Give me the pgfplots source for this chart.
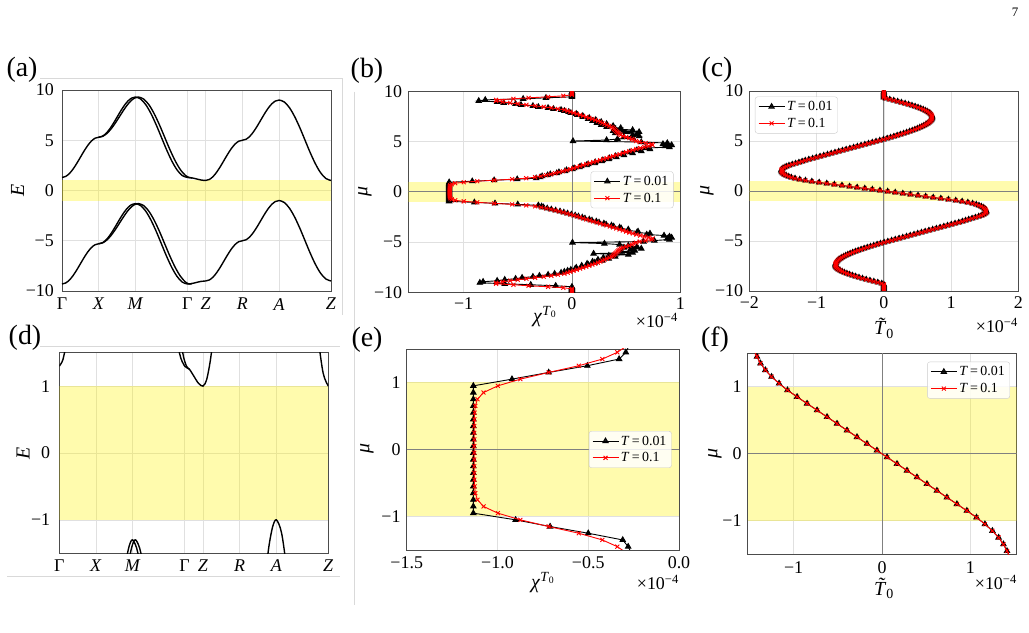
\documentclass[border=0pt]{standalone}
\usepackage{fontspec}
\setmainfont{Liberation Serif}
\usepackage{pgfplots}
\usepackage{pgfplotstable}
\pgfplotsset{compat=1.18}

% band structure along Gamma-X-M-Gamma-Z-R-A-Z (path length in units of pi)
\pgfplotstableread{
t up lo
0.000 1.300 -9.300
0.100 1.398 -9.202
0.200 1.682 -8.918
0.300 2.124 -8.476
0.400 2.682 -7.918
0.500 3.300 -7.300
0.600 3.918 -6.682
0.700 4.476 -6.124
0.800 4.918 -5.682
0.900 5.202 -5.398
1.000 5.300 -5.300
1.100 5.398 -5.202
1.200 5.682 -4.918
1.300 6.124 -4.476
1.400 6.682 -3.918
1.500 7.300 -3.300
1.600 7.918 -2.682
1.700 8.476 -2.124
1.800 8.918 -1.682
1.900 9.202 -1.398
2.000 9.300 -1.300
2.141 9.104 -1.496
2.283 8.536 -2.064
2.424 7.651 -2.949
2.566 6.536 -4.064
2.707 5.300 -5.300
2.848 4.064 -6.536
2.990 2.949 -7.651
3.131 2.064 -8.536
3.273 1.496 -9.104
3.414 1.300 -9.300
3.539 1.256 -9.256
3.664 1.150 -9.150
3.789 1.044 -9.044
3.914 1.000 -9.000
4.014 1.098 -8.902
4.114 1.382 -8.618
4.214 1.824 -8.176
4.314 2.382 -7.618
4.414 3.000 -7.000
4.514 3.618 -6.382
4.614 4.176 -5.824
4.714 4.618 -5.382
4.814 4.902 -5.098
4.914 5.000 -5.000
5.014 5.098 -4.902
5.114 5.382 -4.618
5.214 5.824 -4.176
5.314 6.382 -3.618
5.414 7.000 -3.000
5.514 7.618 -2.382
5.614 8.176 -1.824
5.714 8.618 -1.382
5.814 8.902 -1.098
5.914 9.000 -1.000
6.055 8.804 -1.196
6.197 8.236 -1.764
6.338 7.351 -2.649
6.480 6.236 -3.764
6.621 5.000 -5.000
6.762 3.764 -6.236
6.904 2.649 -7.351
7.045 1.764 -8.236
7.187 1.196 -8.804
7.328 1.000 -9.000
}\bandmain

% split partner bands between X and Gamma
\pgfplotstableread{
t up lo
1.000 5.300 -5.300
1.113 5.398 -5.202
1.225 5.682 -4.918
1.336 6.124 -4.476
1.447 6.682 -3.918
1.557 7.300 -3.300
1.665 7.918 -2.682
1.771 8.476 -2.124
1.876 8.918 -1.682
1.979 9.202 -1.398
2.080 9.300 -1.300
2.223 9.104 -1.496
2.367 8.536 -2.064
2.510 7.651 -2.949
2.654 6.536 -4.064
2.797 5.300 -5.300
2.940 4.064 -6.536
3.084 2.949 -7.651
3.226 2.064 -8.536
3.363 1.496 -9.104
3.464 1.300 -9.300
3.539 1.256 -9.256
}\bandsplit

% chi^{T_0} (units of 1e-4): b = T 0.01, r = T 0.1
\pgfplotstableread{
mu b r
-9.95 0 0
-9.85 0 0
-9.75 0 0
-9.65 0 0
-9.55 0 -0.080
-9.45 0 -0.220
-9.35 -0.150 -0.400
-9.25 -0.380 -0.540
-9.15 -0.620 -0.700
-9.05 -0.850 -0.700
-8.95 -0.820 -0.640
-8.85 -0.690 -0.570
-8.75 -0.620 -0.500
-8.65 -0.520 -0.420
-8.55 -0.460 -0.340
-8.45 -0.360 -0.260
-8.35 -0.300 -0.190
-8.25 -0.220 -0.130
-8.15 -0.160 -0.070
-8.05 -0.100 -0.040
-7.95 -0.070 -0.015
-7.85 -0.040 0.015
-7.75 -0.010 0.045
-7.65 0.030 0.075
-7.55 0.040 0.103
-7.45 0.090 0.132
-7.35 0.090 0.160
-7.25 0.150 0.188
-7.15 0.140 0.215
-7.05 0.210 0.240
-6.95 0.190 0.262
-6.85 0.280 0.280
-6.75 0.240 0.300
-6.65 0.340 0.322
-6.55 0.290 0.345
-6.45 0.400 0.365
-6.35 0.340 0.378
-6.25 0.520 0.388
-6.15 0.200 0.398
-6.05 0.560 0.408
-5.95 0.460 0.418
-5.85 0.580 0.428
-5.75 0.540 0.438
-5.65 0.640 0.450
-5.55 0.480 0.470
-5.45 0.600 0.500
-5.35 0.520 0.530
-5.25 0.440 0.555
-5.15 0.300 0.570
-5.05 0.005 0.590
-4.95 0.660 0.625
-4.85 0.760 0.680
-4.75 0.900 0.735
-4.65 0.880 0.745
-4.55 0.920 0.708
-4.45 0.900 0.668
-4.35 0.850 0.630
-4.25 0.690 0.595
-4.15 0.720 0.562
-4.05 0.600 0.530
-3.95 0.610 0.500
-3.85 0.520 0.470
-3.75 0.520 0.440
-3.65 0.455 0.410
-3.55 0.440 0.380
-3.45 0.385 0.350
-3.35 0.365 0.320
-3.25 0.315 0.291
-3.15 0.295 0.261
-3.05 0.250 0.229
-2.95 0.225 0.197
-2.85 0.185 0.165
-2.75 0.160 0.133
-2.65 0.120 0.103
-2.55 0.095 0.073
-2.45 0.060 0.045
-2.35 0.030 0.015
-2.25 -0.005 -0.015
-2.15 -0.040 -0.048
-2.05 -0.075 -0.082
-1.95 -0.110 -0.118
-1.85 -0.150 -0.155
-1.75 -0.190 -0.195
-1.65 -0.228 -0.238
-1.55 -0.262 -0.285
-1.45 -0.280 -0.340
-1.35 -0.310 -0.422
-1.25 -0.500 -0.552
-1.15 -0.710 -0.718
-1.05 -0.900 -0.874
-0.95 -1.133 -0.998
-0.85 -1.133 -1.077
-0.75 -1.133 -1.110
-0.65 -1.133 -1.122
-0.55 -1.133 -1.126
-0.45 -1.133 -1.127
-0.35 -1.133 -1.128
-0.25 -1.133 -1.128
-0.15 -1.133 -1.128
-0.05 -1.133 -1.128
0.05 -1.133 -1.128
0.15 -1.133 -1.128
0.25 -1.133 -1.128
0.35 -1.133 -1.128
0.45 -1.133 -1.127
0.55 -1.133 -1.126
0.65 -1.133 -1.122
0.75 -1.133 -1.110
0.85 -1.133 -1.077
0.95 -1.133 -0.998
1.05 -0.920 -0.874
1.15 -0.718 -0.718
1.25 -0.505 -0.552
1.35 -0.330 -0.422
1.45 -0.293 -0.340
1.55 -0.275 -0.285
1.65 -0.225 -0.238
1.75 -0.200 -0.195
1.85 -0.140 -0.155
1.95 -0.120 -0.118
2.05 -0.065 -0.082
2.15 -0.050 -0.048
2.25 0.005 -0.015
2.35 0.020 0.015
2.45 0.070 0.045
2.55 0.085 0.073
2.65 0.135 0.103
2.75 0.150 0.133
2.85 0.210 0.165
2.95 0.215 0.197
3.05 0.275 0.229
3.15 0.285 0.261
3.25 0.340 0.291
3.35 0.345 0.320
3.45 0.410 0.350
3.55 0.400 0.380
3.65 0.480 0.410
3.75 0.470 0.440
3.85 0.560 0.470
3.95 0.535 0.500
4.05 0.640 0.530
4.15 0.600 0.562
4.25 0.720 0.595
4.35 0.680 0.630
4.45 0.900 0.668
4.55 0.860 0.708
4.65 0.920 0.745
4.75 0.840 0.735
4.85 0.880 0.680
4.95 0.640 0.625
5.05 0.010 0.590
5.15 0.320 0.570
5.25 0.420 0.555
5.35 0.560 0.530
5.45 0.480 0.500
5.55 0.620 0.470
5.65 0.560 0.450
5.75 0.600 0.438
5.85 0.400 0.428
5.95 0.620 0.418
6.05 0.380 0.408
6.15 0.560 0.398
6.25 0.400 0.388
6.35 0.450 0.378
6.45 0.320 0.365
6.55 0.380 0.345
6.65 0.270 0.322
6.75 0.320 0.300
6.85 0.230 0.280
6.95 0.270 0.262
7.05 0.190 0.240
7.15 0.220 0.215
7.25 0.150 0.188
7.35 0.160 0.160
7.45 0.100 0.132
7.55 0.100 0.103
7.65 0.050 0.075
7.75 0.040 0.045
7.85 -0.010 0.015
7.95 -0.030 -0.015
8.05 -0.070 -0.040
8.15 -0.100 -0.070
8.25 -0.170 -0.130
8.35 -0.220 -0.190
8.45 -0.310 -0.260
8.55 -0.360 -0.340
8.65 -0.470 -0.420
8.75 -0.520 -0.500
8.85 -0.630 -0.570
8.95 -0.690 -0.640
9.05 -0.860 -0.700
9.15 -0.800 -0.700
9.25 -0.450 -0.540
9.35 -0.240 -0.400
9.45 0 -0.220
9.55 0 -0.080
9.65 0 0
9.75 0 0
9.85 0 0
9.95 0 0
}\chitab

% tilde T_0 (units of 1e-4), both temperatures
\pgfplotstableread{
mu t
-9.95 0
-9.85 0
-9.75 0
-9.65 0
-9.55 0
-9.45 0
-9.35 0
-9.25 -0.030
-9.15 -0.089
-9.05 -0.148
-8.95 -0.206
-8.85 -0.262
-8.75 -0.317
-8.65 -0.369
-8.55 -0.419
-8.45 -0.465
-8.35 -0.509
-8.25 -0.549
-8.15 -0.586
-8.05 -0.619
-7.95 -0.647
-7.85 -0.671
-7.75 -0.690
-7.65 -0.705
-7.55 -0.715
-7.45 -0.719
-7.35 -0.720
-7.25 -0.716
-7.15 -0.709
-7.05 -0.699
-6.95 -0.685
-6.85 -0.668
-6.75 -0.647
-6.65 -0.624
-6.55 -0.597
-6.45 -0.567
-6.35 -0.535
-6.25 -0.500
-6.15 -0.463
-6.05 -0.423
-5.95 -0.382
-5.85 -0.338
-5.75 -0.293
-5.65 -0.246
-5.55 -0.198
-5.45 -0.150
-5.35 -0.100
-5.25 -0.050
-5.15 0.005
-5.05 0.060
-4.95 0.116
-4.85 0.171
-4.75 0.227
-4.65 0.282
-4.55 0.338
-4.45 0.393
-4.35 0.449
-4.25 0.504
-4.15 0.560
-4.05 0.615
-3.95 0.671
-3.85 0.726
-3.75 0.782
-3.65 0.837
-3.55 0.893
-3.45 0.948
-3.35 1.004
-3.25 1.059
-3.15 1.115
-3.05 1.168
-2.95 1.215
-2.85 1.262
-2.75 1.312
-2.65 1.362
-2.55 1.410
-2.45 1.450
-2.35 1.480
-2.25 1.505
-2.15 1.520
-2.05 1.525
-1.95 1.520
-1.85 1.512
-1.75 1.498
-1.65 1.478
-1.55 1.450
-1.45 1.415
-1.35 1.375
-1.25 1.320
-1.15 1.250
-1.05 1.165
-0.95 1.070
-0.85 0.961
-0.75 0.848
-0.65 0.735
-0.55 0.622
-0.45 0.509
-0.35 0.396
-0.25 0.283
-0.15 0.170
-0.05 0.057
0.05 -0.057
0.15 -0.170
0.25 -0.283
0.35 -0.396
0.45 -0.509
0.55 -0.622
0.65 -0.735
0.75 -0.848
0.85 -0.961
0.95 -1.070
1.05 -1.165
1.15 -1.250
1.25 -1.320
1.35 -1.375
1.45 -1.415
1.55 -1.450
1.65 -1.478
1.75 -1.498
1.85 -1.512
1.95 -1.520
2.05 -1.525
2.15 -1.520
2.25 -1.505
2.35 -1.480
2.45 -1.450
2.55 -1.410
2.65 -1.362
2.75 -1.312
2.85 -1.262
2.95 -1.215
3.05 -1.168
3.15 -1.115
3.25 -1.059
3.35 -1.004
3.45 -0.948
3.55 -0.893
3.65 -0.837
3.75 -0.782
3.85 -0.726
3.95 -0.671
4.05 -0.615
4.15 -0.560
4.25 -0.504
4.35 -0.449
4.45 -0.393
4.55 -0.338
4.65 -0.282
4.75 -0.227
4.85 -0.171
4.95 -0.116
5.05 -0.060
5.15 -0.005
5.25 0.050
5.35 0.100
5.45 0.150
5.55 0.198
5.65 0.246
5.75 0.293
5.85 0.338
5.95 0.382
6.05 0.423
6.15 0.463
6.25 0.500
6.35 0.535
6.45 0.567
6.55 0.597
6.65 0.624
6.75 0.647
6.85 0.668
6.95 0.685
7.05 0.699
7.15 0.709
7.25 0.716
7.35 0.720
7.45 0.719
7.55 0.715
7.65 0.705
7.75 0.690
7.85 0.671
7.95 0.647
8.05 0.619
8.15 0.586
8.25 0.549
8.35 0.509
8.45 0.465
8.55 0.419
8.65 0.369
8.75 0.317
8.85 0.262
8.95 0.206
9.05 0.148
9.15 0.089
9.25 0.030
9.35 0
9.45 0
9.55 0
9.65 0
9.75 0
9.85 0
9.95 0
}\ttab

\pgfplotsset{
  panel/.style={
    scale only axis, anchor=south west,
    axis line style={draw=black!70, line width=0.7bp},
    major tick length=0pt,
    grid=major, grid style={draw=black!12, line width=0.6bp},
    tick label style={font=\fontsize{18}{20}\selectfont},
    xticklabel style={inner sep=0pt, anchor=north, yshift=-5bp},
    yticklabel style={inner sep=0pt, anchor=east, xshift=-6bp},
    clip mode=individual, clip marker paths=true, scaled ticks=false,
    legend cell align=left,
    legend style={draw=black!20, rounded corners=2.5bp, fill=white, fill opacity=0.85,
      text opacity=1, font=\fontsize{14}{15}\selectfont, inner xsep=3bp, inner ysep=2.5bp,
      row sep=2bp},
    legend image code/.code={%
      \draw[mark repeat=2, mark phase=2, ##1] plot coordinates {(0bp,0bp) (13bp,0bp) (26bp,0bp)};},
  },
  gapband/.style={fill=yellow, fill opacity=0.32, draw=none, forget plot},
  zeroline/.style={black!50, line width=0.8bp, forget plot},
  bandline/.style={black, line width=1.4bp, smooth},
  lowT/.style={black, line width=0.9bp, mark=triangle*, mark size=3.1bp, mark options={solid, fill=black}},
  highT/.style={red, line width=0.9bp, mark=x, mark size=2.8bp, mark options={solid}},
}

\newcommand{\labfont}{\fontsize{20}{22}\selectfont}
\newcommand{\offfont}{\fontsize{18}{20}\selectfont}
% italic T carrying a tilde accent
\newcommand{\Ttilde}{\textit{\accent"02DC T}}

\begin{document}
\begin{tikzpicture}
\useasboundingbox (0,0) rectangle (1029bp,633bp);

% light frames around the panels
\draw[black!15, line width=0.8bp] (40bp,555bp) -- (342bp,555bp) -- (342bp,318bp);
\draw[black!15, line width=0.8bp] (40bp,286.3bp) -- (340bp,286.3bp);
\draw[black!15, line width=0.8bp] (7bp,56.3bp) -- (340bp,56.3bp);
\draw[black!15, line width=0.8bp] (354bp,541bp) -- (354bp,28bp);

% (a) bands, full window
\begin{axis}[panel, at={(62bp,342bp)}, width=269bp, height=201bp,
  xmin=0, xmax=7.328, ymin=-10, ymax=10,
  xtick={0,1,2,3.414,3.914,4.914,5.914,7.328},
  xticklabels={Γ,\textit{X},\textit{M},Γ,\textit{Z},\textit{R},\textit{A},\textit{Z}},
  ytick={-10,-5,0,5,10}, yticklabels={−10,−5,0,5,10},
  xticklabel style={yshift=-2bp}, yticklabel style={xshift=-2bp}]
  \addplot[gapband] coordinates {(0,-1) (7.328,-1) (7.328,1) (0,1)};
  \addplot[bandline] table[x=t, y=up] {\bandmain};
  \addplot[bandline] table[x=t, y=lo] {\bandmain};
  \addplot[bandline] table[x=t, y=up] {\bandsplit};
  \addplot[bandline] table[x=t, y=lo] {\bandsplit};
\end{axis}

% (b) chi^{T_0}
\begin{axis}[panel, at={(408.3bp,340.7bp)}, width=272bp, height=201bp,
  xmin=-1.51, xmax=1, ymin=-10, ymax=10,
  xtick={-1,0,1}, xticklabels={−1,0,1},
  ytick={-10,-5,0,5,10}, yticklabels={−10,−5,0,5,10},
  legend style={at={(0.975,0.51)}, anchor=east}]
  \addplot[gapband] coordinates {(-1.51,-1) (1,-1) (1,1) (-1.51,1)};
  \addplot[zeroline] coordinates {(0,-10) (0,10)};
  \addplot[zeroline] coordinates {(-1.51,0) (1,0)};
  \addplot[lowT] table[x=b, y=mu] {\chitab};
  \addlegendentry{\textit{T}\,=\,0.01}
  \addplot[highT] table[x=r, y=mu] {\chitab};
  \addlegendentry{\textit{T}\,=\,0.1}
\end{axis}

% (c) tilde T_0
\begin{axis}[panel, at={(749.3bp,342bp)}, width=269bp, height=200bp,
  xmin=-2, xmax=2, ymin=-10, ymax=10,
  xtick={-2,-1,0,1,2}, xticklabels={−2,−1,0,1,2},
  ytick={-10,-5,0,5,10}, yticklabels={−10,−5,0,5,10},
  legend style={at={(0.021,0.972)}, anchor=north west}]
  \addplot[gapband] coordinates {(-2,-1) (2,-1) (2,1) (-2,1)};
  \addplot[zeroline] coordinates {(0,-10) (0,10)};
  \addplot[zeroline] coordinates {(-2,0) (2,0)};
  \addplot[lowT] table[x=t, y=mu] {\ttab};
  \addlegendentry{\textit{T}\,=\,0.01}
  \addplot[highT] table[x=t, y=mu] {\ttab};
  \addlegendentry{\textit{T}\,=\,0.1}
\end{axis}

% (d) bands near the gap
\begin{axis}[panel, at={(59.3bp,79.7bp)}, width=269bp, height=200.6bp,
  xmin=0, xmax=7.328, ymin=-1.5, ymax=1.5,
  xtick={0,1,2,3.414,3.914,4.914,5.914,7.328},
  xticklabels={Γ,\textit{X},\textit{M},Γ,\textit{Z},\textit{R},\textit{A},\textit{Z}},
  ytick={-1,0,1}, yticklabels={−1,0,1},
  xticklabel style={yshift=-1bp}, yticklabel style={xshift=-3bp}]
  \addplot[gapband] coordinates {(0,-1) (7.328,-1) (7.328,1) (0,1)};
  \addplot[bandline] table[x=t, y=up] {\bandmain};
  \addplot[bandline] table[x=t, y=lo] {\bandmain};
  \addplot[bandline] table[x=t, y=up] {\bandsplit};
  \addplot[bandline] table[x=t, y=lo] {\bandsplit};
\end{axis}

% (e) chi^{T_0}, zoom
\begin{axis}[panel, at={(406.7bp,83bp)}, width=272.3bp, height=201bp,
  xmin=-1.5, xmax=0, ymin=-1.5, ymax=1.5,
  xtick={-1.5,-1,-0.5,0}, xticklabels={−1.5,−1.0,−0.5,0.0},
  ytick={-1,0,1}, yticklabels={−1,0,1},
  xticklabel style={yshift=-1bp},
  legend style={at={(0.973,0.5)}, anchor=east}]
  \addplot[gapband] coordinates {(-1.5,-1) (0,-1) (0,1) (-1.5,1)};
  \addplot[zeroline] coordinates {(-1.5,0) (0,0)};
  \addplot[lowT] table[x=b, y=mu] {\chitab};
  \addlegendentry{\textit{T}\,=\,0.01}
  \addplot[highT] table[x=r, y=mu] {\chitab};
  \addlegendentry{\textit{T}\,=\,0.1}
\end{axis}

% (f) tilde T_0, zoom
\begin{axis}[panel, at={(747.7bp,78.7bp)}, width=269bp, height=201bp,
  xmin=-1.52, xmax=1.525, ymin=-1.5, ymax=1.5,
  xtick={-1,0,1}, xticklabels={−1,0,1},
  ytick={-1,0,1}, yticklabels={−1,0,1},
  xticklabel style={yshift=-2bp},
  legend style={at={(0.975,0.958)}, anchor=north east}]
  \addplot[gapband] coordinates {(-1.52,-1) (1.525,-1) (1.525,1) (-1.52,1)};
  \addplot[zeroline] coordinates {(0,-1.5) (0,1.5)};
  \addplot[zeroline] coordinates {(-1.52,0) (1.525,0)};
  \addplot[lowT] table[x=t, y=mu] {\ttab};
  \addlegendentry{\textit{T}\,=\,0.01}
  \addplot[highT] table[x=t, y=mu] {\ttab};
  \addlegendentry{\textit{T}\,=\,0.1}
\end{axis}

% panel letters
\begin{scope}[every node/.style={font=\fontsize{28}{30}\selectfont}]
  \node at (22bp,563bp) {(a)};
  \node at (367bp,562bp) {(b)};
  \node at (717bp,563bp) {(c)};
  \node at (25bp,295bp) {(d)};
  \node at (367bp,293bp) {(e)};
  \node at (715bp,293bp) {(f)};
\end{scope}

% axis titles
\begin{scope}[every node/.style={font=\labfont}]
  \node[rotate=90] at (17.5bp,443bp) {\textit{E}};
  \node[rotate=90] at (365bp,441bp) {\textit{μ}};
  \node[rotate=90] at (707bp,442bp) {\textit{μ}};
  \node[rotate=90] at (23bp,180bp) {\textit{E}};
  \node[rotate=90] at (367bp,184bp) {\textit{μ}};
  \node[rotate=90] at (715bp,179bp) {\textit{μ}};
  \node[anchor=base] at (545bp,310bp) {\textit{χ}\textsuperscript{\textit{T}\textsubscript{0}}};
  \node[anchor=base] at (884bp,298bp) {\Ttilde\textsubscript{0}};
  \node[anchor=base] at (543bp,44bp) {\textit{χ}\textsuperscript{\textit{T}\textsubscript{0}}};
  \node[anchor=base] at (884bp,38bp) {\Ttilde\textsubscript{0}};
\end{scope}

% offsets of the x scales
\begin{scope}[every node/.style={font=\offfont, anchor=base east, inner sep=0pt}]
  \node at (678bp,305bp) {×10\textsuperscript{−4}};
  \node at (1018bp,300bp) {×10\textsuperscript{−4}};
  \node at (679bp,43bp) {×10\textsuperscript{−4}};
  \node at (1017bp,43bp) {×10\textsuperscript{−4}};
\end{scope}

\node[font=\fontsize{13}{14}\selectfont] at (1015bp,621bp) {7};
\end{tikzpicture}
\end{document}
